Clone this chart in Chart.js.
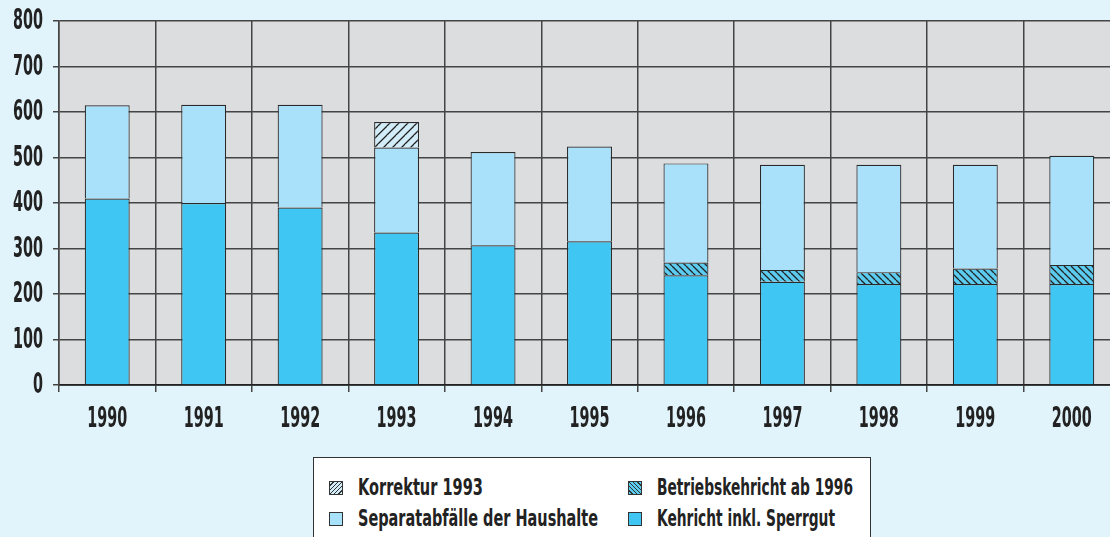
<!DOCTYPE html>
<html>
<head>
<meta charset="utf-8">
<script src="https://cdn.jsdelivr.net/npm/chart.js@4"></script>
<style>
  html, body { margin: 0; padding: 0; background: #e1f3fb; overflow: hidden; }
  #wrap { position: relative; width: 1110px; height: 537px; overflow: hidden; }
  #chart { position: absolute; left: 0; top: 0; }
  #legend {
    position: absolute; left: 313px; top: 457px; width: 558px; height: 90px;
    background: #fff; border: 1px solid #333; box-sizing: border-box;
    font-family: "DejaVu Sans Condensed", "DejaVu Sans", sans-serif;
    font-weight: bold; font-size: 23px; color: #222; white-space: nowrap;
  }
  .item { position: absolute; height: 26px; }
  .sw { position: absolute; left: 0; top: 7px; width: 14px; height: 14px; border: 1px solid #333; box-sizing: border-box; }
  .txt { position: absolute; left: 29px; top: 0; line-height: 26px; transform-origin: 0 50%; }
</style>
</head>
<body>
<div id="wrap">
  <canvas id="chart" width="1122" height="537"></canvas>
  <div id="legend">
    <div class="item" style="left:15px; top:16px;"><span class="sw" id="sw0"></span><span class="txt" data-w="125">Korrektur 1993</span></div>
    <div class="item" style="left:314px; top:16px;"><span class="sw" id="sw1"></span><span class="txt" data-w="196">Betriebskehricht ab 1996</span></div>
    <div class="item" style="left:15px; top:47px;"><span class="sw" id="sw2"></span><span class="txt" data-w="240">Separatabfälle der Haushalte</span></div>
    <div class="item" style="left:314px; top:47px;"><span class="sw" id="sw3"></span><span class="txt" data-w="178">Kehricht inkl. Sperrgut</span></div>
  </div>
</div>
<script>
var years = ["1990", "1991", "1992", "1993", "1994", "1995", "1996", "1997", "1998", "1999", "2000"];
var kehricht = [410, 400, 390, 335, 307, 316, 241, 227, 222, 222, 222];
var betrieb = [null, null, null, null, null, null, 28, 26, 26, 34, 42];
var separat = [205, 216, 226, 187, 205, 208, 218, 231, 236, 228, 240];
var korrektur = [null, null, null, 56, null, null, null, null, null, null, null];
var yTicks = [0, 100, 200, 300, 400, 500, 600, 700, 800];

var tickFont = "bold 28px 'DejaVu Sans Condensed', 'DejaVu Sans', sans-serif";

function hatch(bg, size, forward) {
  var c = document.createElement("canvas");
  c.width = size;
  c.height = size;
  var x = c.getContext("2d");
  x.fillStyle = bg;
  x.fillRect(0, 0, size, size);
  x.strokeStyle = "#222";
  x.lineWidth = 1.3;
  x.beginPath();
  if (forward) {
    x.moveTo(0, size); x.lineTo(size, 0);
    x.moveTo(-size, size); x.lineTo(0, 0);
    x.moveTo(0, 2 * size); x.lineTo(2 * size, 0);
  } else {
    x.moveTo(0, 0); x.lineTo(size, size);
    x.moveTo(-size, 0); x.lineTo(0, size);
    x.moveTo(size, 0); x.lineTo(2 * size, size);
  }
  x.stroke();
  return c;
}

var ctx = document.getElementById("chart").getContext("2d");
var korrPattern = ctx.createPattern(hatch("#d3edf8", 9, true), "repeat");
var betriebPattern = ctx.createPattern(hatch("#5ccbf0", 7, false), "repeat");

document.getElementById("sw0").style.background = "repeating-linear-gradient(-45deg, #d3edf8 0 2px, #333 2px 3px)";
document.getElementById("sw1").style.background = "repeating-linear-gradient(45deg, #5ccbf0 0 2px, #333 2px 3px)";
document.getElementById("sw2").style.background = "#a9e0fa";
document.getElementById("sw3").style.background = "#40c6f2";

// squeeze each legend text to the width it has in the original
document.querySelectorAll(".txt").forEach(function (t) {
  var k = Number(t.dataset.w) / t.getBoundingClientRect().width;
  t.style.transform = "scaleX(" + k + ")";
});

var plotBg = {
  id: "plotBg",
  beforeDraw: function (chart) {
    var a = chart.chartArea;
    chart.ctx.save();
    chart.ctx.fillStyle = "#dcdddf";
    chart.ctx.fillRect(a.left, a.top, a.right - a.left, a.bottom - a.top);
    chart.ctx.restore();
  },
};

// tick labels drawn narrow, positions taken from the scales
var narrowTicks = {
  id: "narrowTicks",
  afterDraw: function (chart) {
    var c = chart.ctx;
    var xs = chart.scales.x;
    var ys = chart.scales.y;
    c.save();
    c.font = tickFont;
    c.fillStyle = "#222";
    c.textBaseline = "middle";
    var sx = 40 / c.measureText("1990").width;
    xs.ticks.forEach(function (t, i) {
      var px = xs.getPixelForTick(i);
      c.save();
      c.translate(px, 419);
      c.scale(sx, 1);
      c.textAlign = "center";
      c.fillText(years[i], 0, 1);
      c.restore();
    });
    ys.ticks.forEach(function (t) {
      var py = ys.getPixelForValue(t.value);
      c.save();
      c.translate(43, py);
      c.scale(sx, 1);
      c.textAlign = "right";
      c.fillText(String(t.value), 0, 1);
      c.restore();
    });
    c.restore();
  },
};

var barCommon = {
  borderColor: "#2a2a2a",
  borderWidth: 1.2,
  categoryPercentage: 1,
  barPercentage: 0.466,
};

new Chart(ctx, {
  type: "bar",
  data: {
    labels: years,
    datasets: [
      Object.assign({ label: "Kehricht inkl. Sperrgut", data: kehricht, backgroundColor: "#40c6f2" }, barCommon),
      Object.assign({ label: "Betriebskehricht ab 1996", data: betrieb, backgroundColor: betriebPattern }, barCommon),
      Object.assign({ label: "Separatabfälle der Haushalte", data: separat, backgroundColor: "#a9e0fa" }, barCommon),
      Object.assign({ label: "Korrektur 1993", data: korrektur, backgroundColor: korrPattern }, barCommon),
    ],
  },
  options: {
    responsive: false,
    animation: false,
    layout: { padding: { top: 21, right: 2, left: 0, bottom: 0 } },
    plugins: {
      legend: { display: false },
      tooltip: { enabled: false },
    },
    scales: {
      x: {
        stacked: true,
        grid: { color: "#444", lineWidth: 1.5, offset: true, tickLength: 7 },
        border: { color: "#222", width: 1.8 },
        ticks: { display: false },
        afterFit: function (s) { s.height = 152; },
      },
      y: {
        stacked: true,
        min: 0,
        max: 800,
        afterBuildTicks: function (s) { s.ticks = yTicks.map(function (v) { return { value: v }; }); },
        grid: { color: "#444", lineWidth: 1.5, tickLength: 6 },
        border: { color: "#444", width: 1.5 },
        ticks: { display: false },
        afterFit: function (s) { s.width = 59; },
      },
    },
  },
  plugins: [plotBg, narrowTicks],
});
</script>
</body>
</html>
